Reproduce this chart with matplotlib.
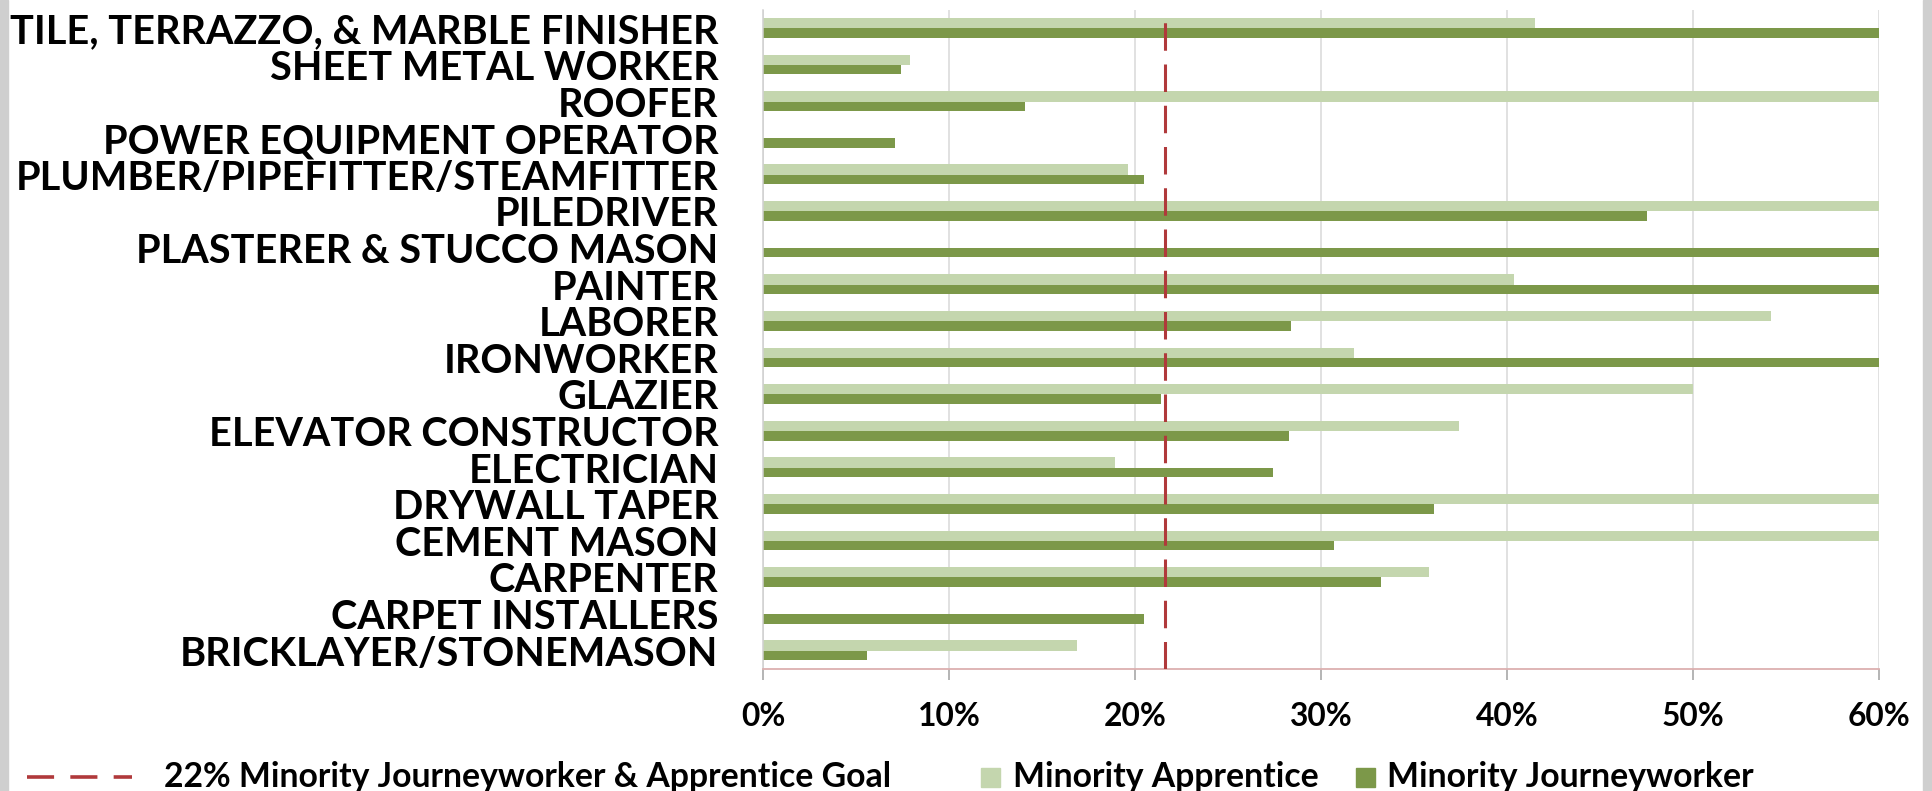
import matplotlib
matplotlib.use("Agg")
import matplotlib.pyplot as plt
import numpy as np
from matplotlib.patches import Rectangle
from matplotlib.lines import Line2D

categories = [
    "TILE, TERRAZZO, & MARBLE FINISHER",
    "SHEET METAL WORKER",
    "ROOFER",
    "POWER EQUIPMENT OPERATOR",
    "PLUMBER/PIPEFITTER/STEAMFITTER",
    "PILEDRIVER",
    "PLASTERER & STUCCO MASON",
    "PAINTER",
    "LABORER",
    "IRONWORKER",
    "GLAZIER",
    "ELEVATOR CONSTRUCTOR",
    "ELECTRICIAN",
    "DRYWALL TAPER",
    "CEMENT MASON",
    "CARPENTER",
    "CARPET INSTALLERS",
    "BRICKLAYER/STONEMASON",
]
apprentice = [41.5, 7.9, 60, 0, 19.6, 60, 0, 40.4, 54.2, 31.8, 50.0, 37.4, 18.9, 60, 60, 35.8, 0, 16.9]
journeyworker = [60, 7.4, 14.1, 7.1, 20.5, 47.5, 60, 60, 28.4, 60, 21.4, 28.3, 27.4, 36.1, 30.7, 33.2, 20.5, 5.6]
goal = 21.6
xticks = [0, 10, 20, 30, 40, 50, 60]
xtick_labels = ["0%", "10%", "20%", "30%", "40%", "50%", "60%"]
legend_labels = ["22% Minority Journeyworker & Apprentice Goal", "Minority Apprentice", "Minority Journeyworker"]

LIGHT = "#c4d6ae"
DARK = "#7c9849"
RED = "#b0393b"
FONT = ["Lato", "DejaVu Sans"]

W, H = 1933, 791
fig = plt.figure(figsize=(W / 100, H / 100), dpi=100)
fig.patch.set_facecolor("white")

def fx(px):
    return px / W

def fy(py):
    return 1 - py / H

ax = fig.add_axes([fx(763), fy(669), fx(1879) - fx(763), fy(10) - fy(669)])

n = len(categories)
ypos = np.arange(n)[::-1]
h_light = 0.28
h_dark = 0.26
ax.barh(ypos + h_light / 2, apprentice, height=h_light, color=LIGHT, zorder=2)
ax.barh(ypos - h_dark / 2, journeyworker, height=h_dark, color=DARK, zorder=2)
ax.axvline(goal, color=RED, lw=2.2, linestyle=(0, (9, 4.5)), zorder=3)

ax.set_xlim(0, 60)
ax.set_ylim(-0.5, n - 0.5)
ax.set_xticks(xticks)
ax.set_xticklabels(xtick_labels)
ax.set_yticks(ypos)
ax.set_yticklabels(categories)
ax.grid(axis="x", color="#d9d9d9", lw=1.1, zorder=0)
ax.set_axisbelow(True)
for s in ["top", "right"]:
    ax.spines[s].set_visible(False)
ax.spines["left"].set_color("#d0d0d0")
ax.spines["left"].set_linewidth(1.1)
ax.spines["bottom"].set_color("#dcb0b0")
ax.spines["bottom"].set_linewidth(1.3)
ax.tick_params(axis="y", length=0, pad=32)
ax.tick_params(axis="x", length=8, width=1.1, color="#a0a0a0", pad=16)

r = fig.canvas.get_renderer()

def fit_size(txt, target_px, base=20):
    t = fig.text(0, 0, txt, fontsize=base, fontweight="bold", family=FONT)
    w = t.get_window_extent(r).width
    t.remove()
    return base * target_px / w

ysize = fit_size(categories[0], 706)
xsize = fit_size("60%", 63)
for lab in ax.get_yticklabels():
    lab.set_fontsize(ysize)
    lab.set_fontweight("bold")
    lab.set_family(FONT)
    lab.set_color("black")
for lab in ax.get_xticklabels():
    lab.set_fontsize(xsize)
    lab.set_fontweight("bold")
    lab.set_family(FONT)
    lab.set_color("black")

# legend drawn in figure pixel coordinates
sizes = [fit_size(legend_labels[0], 758), fit_size(legend_labels[1], 284), fit_size(legend_labels[2], 378)]
lsize = float(np.exp(np.mean(np.log(sizes))))
ly = fy(777)
fig.add_artist(Line2D([fx(27), fx(132)], [ly, ly], color=RED, lw=2.6,
                      linestyle=(0, (7.5, 4.5)), transform=fig.transFigure))
fig.text(fx(164), ly, legend_labels[0], fontsize=lsize, fontweight="bold",
         family=FONT, va="center", ha="left")
sq = 19
fig.add_artist(Rectangle((fx(981), fy(777 + sq / 2)), sq / W, sq / H,
                         color=LIGHT, transform=fig.transFigure))
fig.text(fx(1013), ly, legend_labels[1], fontsize=lsize, fontweight="bold",
         family=FONT, va="center", ha="left")
fig.add_artist(Rectangle((fx(1356), fy(777 + sq / 2)), sq / W, sq / H,
                         color=DARK, transform=fig.transFigure))
fig.text(fx(1387), ly, legend_labels[2], fontsize=lsize, fontweight="bold",
         family=FONT, va="center", ha="left")

# grey side strips of the original screenshot
fig.add_artist(Rectangle((0, 0), fx(8), 1, color="#cfcfcf", transform=fig.transFigure))
fig.add_artist(Rectangle((fx(1923), 0), fx(10), 1, color="#cfcfcf", transform=fig.transFigure))

fig.savefig("out.png", dpi=100, facecolor="white")
